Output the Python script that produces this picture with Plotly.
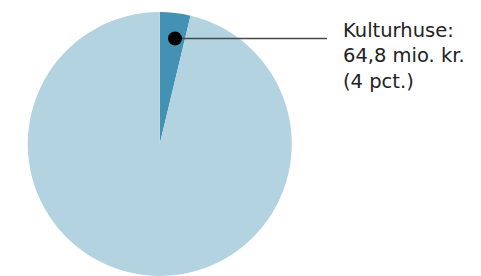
import plotly.graph_objects as go

labels = ["Kulturhuse", "Øvrige"]
values = [64.8, 1665.0]
colors = ["#4391b3", "#b3d3e1"]
label_text = "Kulturhuse:<br>64,8 mio. kr.<br>(4 pct.)"

W, H = 481, 276
T = 11.5

fig = go.Figure(go.Pie(
    labels=labels, values=values, sort=False, direction="clockwise", rotation=0,
    marker=dict(colors=colors, line=dict(width=0)),
    textinfo="none", hoverinfo="label+value", showlegend=False,
    domain=dict(x=[27.5 / W, 292.0 / W], y=[0, 1]),
))

def px(x): return x / W
def py(y): return 1 - (y - T) / (H - T)

fig.add_shape(type="line", xref="paper", yref="paper",
              x0=px(175), x1=px(327), y0=py(38), y1=py(38),
              line=dict(color="#454a4d", width=1.5))
fig.add_shape(type="circle", xref="paper", yref="paper",
              x0=px(168), x1=px(182), y0=py(31), y1=py(45),
              fillcolor="black", line=dict(width=0))
fig.add_annotation(text=label_text, xref="paper", yref="paper",
                   x=px(341), y=py(17), xanchor="left", yanchor="top",
                   align="left", showarrow=False,
                   font=dict(family="DejaVu Sans", size=19.5, color="#222222"))

fig.update_layout(width=W, height=H, margin=dict(l=0, r=0, t=T, b=0),
                  paper_bgcolor="white", plot_bgcolor="white")
fig.write_html("out.html", config={"displayModeBar": False},
               post_script="document.body.style.margin='0';")
